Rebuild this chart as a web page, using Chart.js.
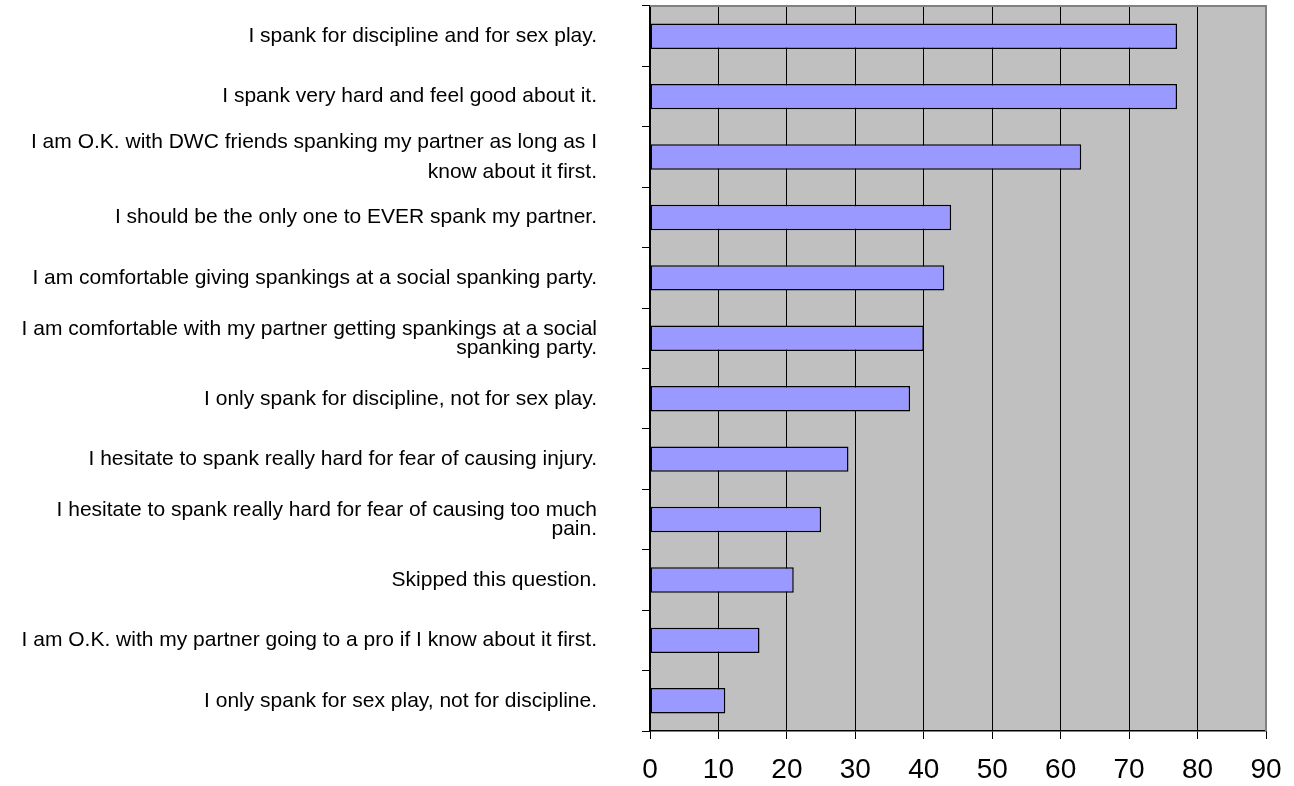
<!DOCTYPE html>
<html>
<head>
<meta charset="utf-8">
<script src="https://cdn.jsdelivr.net/npm/chart.js@4/dist/chart.umd.min.js"></script>
<style>
    html, body { margin: 0; padding: 0; background: #fff; }
    #wrap { width: 1294px; height: 786px; }
</style>
</head>
<body>
<div id="wrap"><canvas id="myChart"></canvas></div>
<script>
// statements (top to bottom) and percent of answers
let statements = [
    "I spank for discipline and for sex play.",
    "I spank very hard and feel good about it.",
    ["I am O.K. with DWC friends spanking my partner as long as I", "know about it first."],
    "I should be the only one to EVER spank my partner.",
    "I am comfortable giving spankings at a social spanking party.",
    ["I am comfortable with my partner getting spankings at a social", "spanking party."],
    "I only spank for discipline, not for sex play.",
    "I hesitate to spank really hard for fear of causing injury.",
    ["I hesitate to spank really hard for fear of causing too much", "pain."],
    "Skipped this question.",
    "I am O.K. with my partner going to a pro if I know about it first.",
    "I only spank for sex play, not for discipline."
];
let percents = [77, 77, 63, 44, 43, 40, 38, 29, 25, 21, 16, 11];
let xTicks = [0, 10, 20, 30, 40, 50, 60, 70, 80, 90];

const fontFamily = "Arial, 'Liberation Sans', sans-serif";

// gray plot background plus the gray frame on top and right
const plotFrame = {
    id: "plotFrame",
    beforeDraw(chart) {
        let a = chart.chartArea;
        let ctx = chart.ctx;
        ctx.save();
        ctx.fillStyle = "#C0C0C0";
        ctx.fillRect(a.left, a.top, a.right - a.left, a.bottom - a.top);
        ctx.restore();
    },
    afterDraw(chart) {
        let a = chart.chartArea;
        let ctx = chart.ctx;
        ctx.save();
        ctx.strokeStyle = "#808080";
        ctx.lineWidth = 2;
        ctx.beginPath();
        ctx.moveTo(a.left, a.top);
        ctx.lineTo(a.right, a.top);
        ctx.lineTo(a.right, a.bottom);
        ctx.stroke();
        ctx.restore();
    }
};

const myChart = new Chart(document.getElementById("myChart"), {
    type: "bar",
    data: {
        labels: statements,
        datasets: [
            {
                data: percents,
                backgroundColor: "#9999FF",
                borderColor: "#000000",
                borderWidth: 1.5,
                borderSkipped: false,
                barPercentage: 0.42,
                categoryPercentage: 1.0
            }
        ]
    },
    options: {
        indexAxis: "y",
        responsive: true,
        maintainAspectRatio: false,
        animation: false,
        layout: { padding: { top: 6, right: 28, left: 0, bottom: 0 } },
        plugins: {
            legend: { display: false },
            tooltip: { enabled: false }
        },
        scales: {
            x: {
                min: 0,
                max: 90,
                afterBuildTicks: (scale) => {
                    scale.ticks = xTicks.map((v) => ({ value: v }));
                },
                afterFit: (scale) => {
                    scale.height = 55;
                    scale.paddingLeft = 0;
                    scale.paddingRight = 0;
                },
                border: { display: true, color: "#000", width: 1.5 },
                grid: {
                    color: "#000",
                    lineWidth: 1,
                    tickLength: 8,
                    drawTicks: true
                },
                ticks: {
                    color: "#000",
                    padding: 14,
                    maxRotation: 0,
                    font: { family: fontFamily, size: 28 }
                }
            },
            y: {
                afterFit: (scale) => {
                    scale.width = 650;
                    scale.paddingTop = 0;
                    scale.paddingBottom = 0;
                },
                border: { display: true, color: "#000", width: 1.5 },
                grid: {
                    offset: true,
                    drawOnChartArea: false,
                    drawTicks: true,
                    tickLength: 8,
                    color: "#000"
                },
                ticks: {
                    color: "#000",
                    padding: 45,
                    autoSkip: false,
                    font: (ctx) => ({
                        family: fontFamily,
                        size: 21,
                        lineHeight: ctx.index === 2 ? 1.45 : 0.9
                    })
                }
            }
        }
    },
    plugins: [plotFrame]
});
</script>
</body>
</html>
